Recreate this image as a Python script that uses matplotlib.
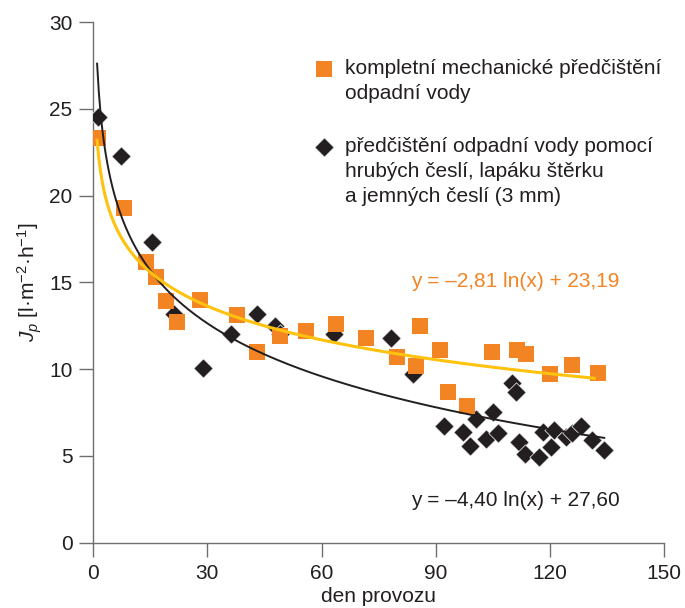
import numpy as np
import matplotlib
matplotlib.use("Agg")
import matplotlib.pyplot as plt

plt.rcParams["font.family"] = ["Liberation Sans", "DejaVu Sans"]
plt.rcParams["mathtext.fontset"] = "custom"
plt.rcParams["mathtext.rm"] = "Liberation Sans"
plt.rcParams["mathtext.it"] = "Liberation Sans:italic"

ORANGE = "#f28423"
GOLD = "#ffc20e"
DARK = "#231f20"
AXIS = "#6d6e70"
FS = 15

# complete mechanical pretreatment (orange squares)
orange_day = [1.2, 8.1, 13.8, 16.5, 19.1, 22.1, 28.0, 37.9, 42.9, 49.0, 56.0,
              63.9, 71.8, 79.9, 84.9, 86.0, 91.0, 93.2, 98.3, 104.8, 111.5,
              113.8, 120.1, 125.8, 132.7]
orange_flux = [23.3, 19.3, 16.2, 15.3, 13.9, 12.7, 14.0, 13.1, 11.0, 11.9, 12.2,
               12.6, 11.8, 10.7, 10.2, 12.5, 11.1, 8.7, 7.9, 11.0, 11.1,
               10.9, 9.7, 10.25, 9.8]

# coarse screens + grit trap + fine screens (black diamonds)
black_day = [1.2, 7.3, 15.3, 21.3, 28.9, 36.3, 43.1, 47.7, 49.0, 63.3, 78.3,
             84.0, 92.3, 97.1, 99.0, 100.6, 103.1, 105.0, 106.3, 110.1, 111.1,
             112.0, 113.5, 117.2, 118.1, 120.3, 121.2, 124.3, 125.8, 128.2,
             131.1, 134.3]
black_flux = [24.5, 22.3, 17.3, 13.2, 10.05, 12.0, 13.2, 12.5, 12.0, 12.0, 11.8,
              9.7, 6.7, 6.4, 5.6, 7.1, 6.0, 7.55, 6.3, 9.2, 8.7,
              5.8, 5.1, 4.96, 6.4, 5.5, 6.5, 6.1, 6.3, 6.7,
              5.9, 5.35]

# logarithmic trend lines: y = a ln(x) + b
orange_fit = (-2.81, 23.19)
black_fit = (-4.40, 27.60)

fig = plt.figure(figsize=(6.85, 6.08), dpi=100)
ax = fig.add_axes([0.1362, 0.1074, 0.8331, 0.8564])

ax.scatter(black_day, black_flux, marker="D", s=9.8 ** 2, color=DARK,
           edgecolors="white", linewidths=0.5, zorder=3,
           label="předčištění odpadní vody pomocí\nhrubých česlí, lapáku štěrku\na jemných česlí (3 mm)")
ax.scatter(orange_day, orange_flux, marker="s", s=11.3 ** 2, color=ORANGE,
           linewidths=0, zorder=4,
           label="kompletní mechanické předčištění\nodpadní vody")

xb = np.linspace(1, 134.3, 300)
ax.plot(xb, black_fit[0] * np.log(xb) + black_fit[1], color=DARK, lw=1.4, zorder=5)
xo = np.linspace(1, 131.7, 300)
ax.plot(xo, orange_fit[0] * np.log(xo) + orange_fit[1], color=GOLD, lw=2.2, zorder=6)

ax.text(83.6, 15.03, "y = –2,81 ln(x) + 23,19", color=ORANGE, fontsize=FS,
        ha="left", va="center")
ax.text(83.6, 2.42, "y = –4,40 ln(x) + 27,60", color=DARK, fontsize=FS,
        ha="left", va="center")

handles, labels = ax.get_legend_handles_labels()
leg = ax.legend(handles[::-1], labels[::-1], loc="upper left",
                bbox_to_anchor=(0.386, 0.928), frameon=False, fontsize=FS,
                handlelength=1.0, handletextpad=0.52, labelspacing=1.63,
                borderpad=0, borderaxespad=0, scatterpoints=1)
for col in leg.get_children()[0].get_children()[1].get_children():
    for item in col.get_children():
        item.align = "top"
for t in leg.get_texts():
    t.set_color(DARK)
    t.set_linespacing(1.4)

ax.set_xlim(0, 150)
ax.set_ylim(0, 30)
ax.set_xticks([0, 30, 60, 90, 120, 150])
ax.set_yticks([0, 5, 10, 15, 20, 25, 30])
ax.tick_params(length=10, width=1.0, color=AXIS, labelsize=FS, pad=5,
               labelcolor=DARK)
for side in ("top", "right"):
    ax.spines[side].set_visible(False)
for side in ("left", "bottom"):
    ax.spines[side].set_color(AXIS)
    ax.spines[side].set_linewidth(1.0)

ax.set_xlabel("den provozu", fontsize=FS, color=DARK, labelpad=3)
ax.set_ylabel(r"$J_p$ [l·m$^{-2}$·h$^{-1}$]", fontsize=FS, color=DARK, labelpad=4)

fig.savefig("out.png", dpi=100)
